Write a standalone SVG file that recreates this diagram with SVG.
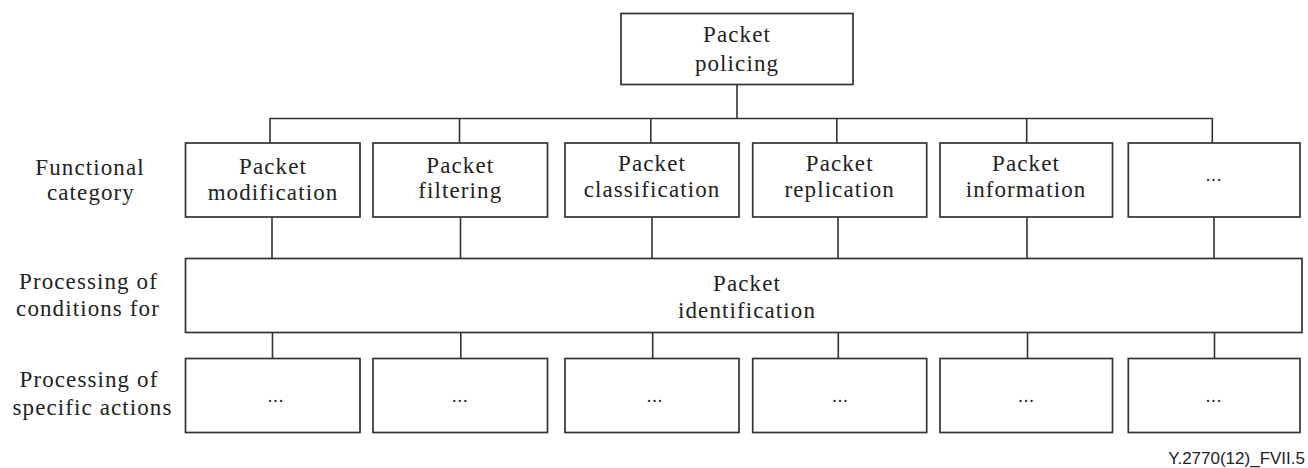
<svg xmlns="http://www.w3.org/2000/svg" width="1308" height="468" viewBox="0 0 1308 468">
<rect width="1308" height="468" fill="#fff"/>
<g id="connectors" stroke="#333" stroke-width="1.6" fill="none">
<path d="M737 84V118.5M270 118.5H1212.5M270 118V143M459.5 118V143M650.8 118V143M836.8 118V143M1026.7 118V143M1212.3 118V143"/>
<path d="M272 217V258.5M460.5 217V258.5M652 217V258.5M838 217V258.5M1027 217V258.5M1214 217V258.5"/>
<path d="M272.5 332.5V358.5M460.8 332.5V358.5M652.7 332.5V358.5M838.3 332.5V358.5M1027.5 332.5V358.5M1214.5 332.5V358.5"/>
</g>
<g fill="#fff" stroke="#333" stroke-width="1.7">
<rect id="r-policing" x="621" y="13.5" width="232" height="71"/>
<rect x="185.5" y="143" width="174.5" height="74"/>
<rect x="373" y="143" width="174.5" height="74"/>
<rect x="565" y="143" width="174" height="74"/>
<rect x="752.7" y="143" width="174" height="74"/>
<rect x="940" y="143" width="172.5" height="74"/>
<rect x="1128.3" y="143" width="171.7" height="74"/>
<rect x="185.5" y="258.5" width="1116.5" height="74"/>
<rect x="185.5" y="358.5" width="174.5" height="74"/>
<rect x="373" y="358.5" width="174.5" height="74"/>
<rect x="565" y="358.5" width="174" height="74"/>
<rect x="752.7" y="358.5" width="174" height="74"/>
<rect x="940" y="358.5" width="172.5" height="74"/>
<rect x="1128.3" y="358.5" width="171.7" height="74"/>
</g>
<g font-family="Liberation Serif" font-size="23" letter-spacing="1.1" fill="#222" text-anchor="middle">
<g id="policing"><text x="737" y="41.5">Packet</text><text x="737" y="71">policing</text></g>
<g id="labels">
<text x="90" y="175">Functional</text><text x="91" y="200">category</text>
<text x="88.5" y="289">Processing of</text><text x="88" y="316">conditions for</text>
<text x="89" y="387">Processing of</text><text x="92.5" y="415">specific actions</text>
</g>
<g id="modification"><text x="273" y="174">Packet</text><text x="273" y="200">modification</text></g>
<g id="filtering"><text x="460.3" y="172.5">Packet</text><text x="460.3" y="198">filtering</text></g>
<g id="classification"><text x="652" y="171">Packet</text><text x="652" y="197">classification</text></g>
<g id="replication"><text x="839.7" y="171">Packet</text><text x="839.7" y="197">replication</text></g>
<g id="information"><text x="1026" y="171">Packet</text><text x="1026" y="197">information</text></g>
<g id="identification"><text x="747" y="290.5">Packet</text><text x="747" y="318">identification</text></g>
<g font-size="18" letter-spacing="1">
<text id="more" x="1214" y="181">...</text>
<text id="action1" x="276" y="401.5">...</text>
<text id="action2" x="460.3" y="401.5">...</text>
<text id="action3" x="655" y="401.5">...</text>
<text id="action4" x="840.5" y="401.5">...</text>
<text id="action5" x="1026.5" y="401.5">...</text>
<text id="action6" x="1214" y="401.5">...</text>
</g>
</g>
<text font-family="Liberation Sans" font-size="17" fill="#222" text-anchor="end" x="1305" y="464">Y.2770(12)_FVII.5</text>
</svg>
